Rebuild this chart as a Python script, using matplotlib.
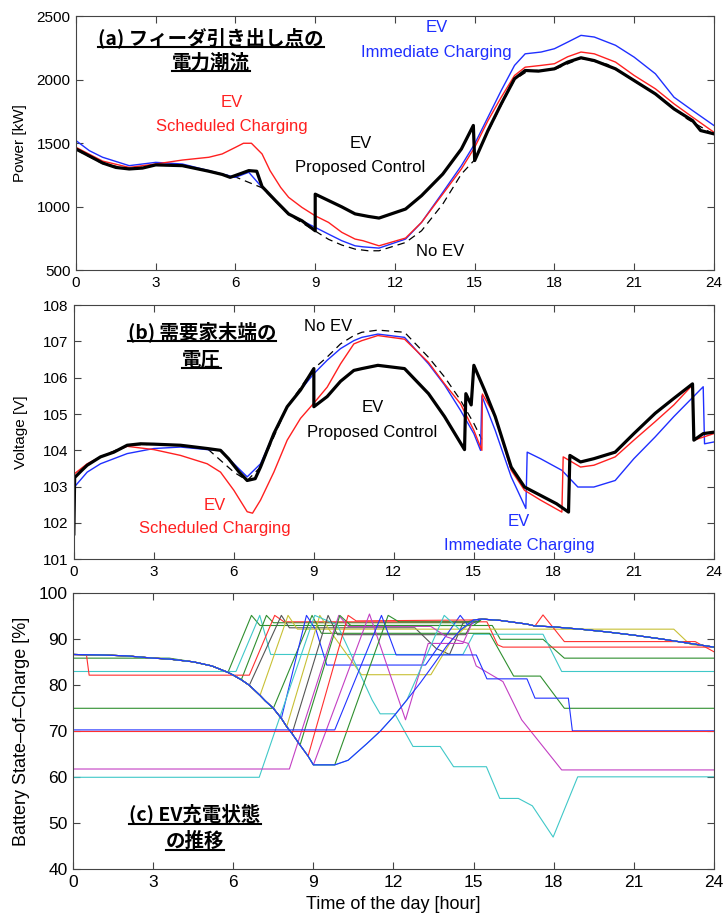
import matplotlib
matplotlib.use('Agg')
import matplotlib.pyplot as plt
from matplotlib.lines import Line2D

plt.rcParams['font.family'] = ['Liberation Sans', 'DejaVu Sans']
JP = ['Noto Sans CJK JP', 'DejaVu Sans']

# ---------------- (a) feeder power flow [kW] ----------------
pa_prop_t = [0, 0.5, 1, 1.5, 2, 2.5, 3, 4, 5, 5.5, 5.8, 6.2, 6.5, 6.8, 7.0, 7.5, 8.0, 8.5, 9.0, 9.0,
             9.5, 10, 10.5, 11, 11.4, 12.4, 13.0, 13.8, 14.5, 14.95, 15.0, 15.5, 16.0, 16.5, 16.9,
             17.4, 18.0, 18.5, 19.0, 19.5, 20.3, 21.0, 21.8, 22.5, 23.2, 23.5, 24]
pa_prop = [1455, 1400, 1345, 1310, 1298, 1305, 1330, 1324, 1280, 1255, 1232, 1262, 1285, 1280, 1160,
           1050, 944, 891, 812, 1100, 1050, 1000, 945, 925, 912, 983, 1088, 1258, 1455, 1640, 1364,
           1600, 1810, 2007, 2072, 2067, 2085, 2138, 2172, 2150, 2085, 1993, 1888, 1770, 1678, 1600, 1574]

pa_sched_t = [0, 1, 2, 3, 4, 5, 5.5, 6.0, 6.3, 6.6, 7.0, 7.3, 7.7, 8.0, 8.5, 9.0, 9.5, 10.0, 10.5,
              10.8, 11.4, 12.4, 13.0, 13.8, 14.5, 15.0, 15.5, 16.0, 16.5, 16.9, 17.5, 18.0, 18.5,
              19.0, 19.5, 20.3, 21.0, 21.8, 22.5, 23.2, 24]
pa_sched = [1468, 1360, 1310, 1337, 1368, 1390, 1416, 1468, 1500, 1500, 1416, 1285, 1153, 1075, 996,
            930, 878, 800, 747, 734, 694, 755, 878, 1101, 1298, 1468, 1678, 1862, 2033, 2098, 2112,
            2125, 2180, 2217, 2203, 2138, 2033, 1928, 1810, 1705, 1587]

pa_imm_t = [0, 0.5, 1, 2, 3, 4, 5, 6, 6.5, 7, 8, 9, 9.5, 10, 10.5, 10.8, 11.4, 12.4, 13.0, 13.8, 14.5,
            15.0, 15.5, 16.0, 16.5, 16.9, 17.5, 18.0, 18.5, 19.0, 19.5, 20.3, 21.0, 21.8, 22.5, 23.2, 24]
pa_imm = [1521, 1442, 1390, 1324, 1350, 1337, 1285, 1232, 1272, 1153, 944, 839, 786, 734, 694, 686,
          676, 747, 878, 1114, 1324, 1495, 1705, 1915, 2112, 2203, 2217, 2243, 2295, 2348, 2335,
          2270, 2177, 2046, 1862, 1757, 1640]

pa_noev_t = [0, 1, 2, 3, 4, 5, 6, 7, 8, 9, 9.5, 10, 10.5, 11, 11.4, 12.4, 13.0, 13.8, 14.5, 15.0,
             15.5, 16.0, 16.5, 17, 18, 19, 20, 21, 22, 23, 24]
pa_noev = [1450, 1340, 1298, 1328, 1322, 1278, 1235, 1150, 940, 810, 745, 700, 668, 655, 655, 720,
           812, 1022, 1258, 1370, 1590, 1800, 2000, 2068, 2080, 2168, 2120, 1990, 1860, 1690, 1570]

# ---------------- (b) customer-end voltage [V] ----------------
vb_prop_t = [0, 0.03, 0.3, 0.5, 1, 1.5, 2, 2.5, 3, 4, 5, 5.5, 5.8, 6.2, 6.5, 6.8, 7.0, 7.5, 8.0, 8.5,
             9.0, 9.0, 9.5, 10, 10.5, 10.8, 11.4, 12.4, 13.3, 13.9, 14.65, 14.7, 14.9, 15.0, 15.4,
             15.8, 16.4, 16.9, 17.5, 18.1, 18.55, 18.6, 19.0, 19.5, 20.3, 21.0, 21.8, 22.5, 23.2,
             23.25, 23.6, 24]
vb_prop = [101.7, 103.25, 103.45, 103.59, 103.82, 103.95, 104.14, 104.18, 104.17, 104.14, 104.05,
           104.0, 103.77, 103.4, 103.17, 103.22, 103.54, 104.46, 105.2, 105.66, 106.25, 105.2,
           105.48, 105.9, 106.2, 106.25, 106.34, 106.25, 105.56, 104.93, 104.02, 105.56, 105.25,
           106.34, 105.66, 104.93, 103.54, 102.99, 102.76, 102.53, 102.3, 103.86, 103.68, 103.77,
           103.95, 104.46, 105.02, 105.43, 105.83, 104.28, 104.46, 104.5]

vb_sched_t = [0, 0.03, 0.5, 1, 2, 3, 4, 5, 5.5, 6, 6.5, 6.7, 7, 7.5, 8, 8.5, 9, 9.5, 10, 10.5, 10.8,
              11.4, 12.4, 13.3, 13.9, 14.5, 15.0, 15.3, 15.32, 15.8, 16.4, 16.9, 17.5, 18.3, 18.35,
              19.0, 19.5, 20.3, 21.0, 21.8, 22.5, 23.2, 23.25, 24]
vb_sched = [101.7, 103.36, 103.63, 103.82, 104.11, 104.02, 103.86, 103.63, 103.4, 102.9, 102.31,
            102.27, 102.63, 103.4, 104.28, 104.88, 105.3, 105.74, 106.38, 106.93, 107.02, 107.16,
            107.06, 106.42, 105.83, 105.28, 104.55, 104.0, 105.55, 104.93, 103.45, 102.9, 102.63,
            102.3, 103.82, 103.54, 103.59, 103.82, 104.28, 104.79, 105.25, 105.8, 104.28, 104.46]

vb_imm_t = [0, 0.03, 0.5, 1, 2, 3, 4, 5, 5.5, 6, 6.5, 7, 7.5, 8, 8.5, 9, 9.5, 10, 10.5, 10.8, 11.4,
            12.4, 13.3, 13.9, 14.5, 15.0, 15.25, 15.3, 15.8, 16.4, 16.95, 17.0, 17.5, 18.3, 18.9,
            19.5, 20.3, 21.0, 21.8, 22.5, 23.6, 23.65, 24]
vb_imm = [101.4, 103.0, 103.4, 103.63, 103.91, 104.05, 104.09, 104.02, 104.0, 103.63, 103.27,
          103.63, 104.46, 105.2, 105.66, 106.11, 106.48, 106.8, 107.02, 107.11, 107.2, 107.11,
          106.38, 105.8, 105.1, 104.46, 104.0, 105.5, 104.55, 103.27, 102.4, 103.95, 103.77,
          103.45, 102.99, 102.99, 103.17, 103.77, 104.37, 104.93, 105.75, 104.18, 104.23]

vb_noev_t = [0, 0.03, 0.5, 1, 2, 3, 4, 5, 6, 6.5, 7, 8, 9, 9.5, 10, 10.5, 10.8, 11.4, 12.4, 13.3,
             13.9, 14.5, 15.0, 15.3]
vb_noev = [101.7, 103.25, 103.59, 103.82, 104.14, 104.17, 104.14, 104.05, 103.4, 103.17, 103.54,
           105.2, 106.25, 106.57, 106.93, 107.16, 107.25, 107.31, 107.25, 106.56, 106.02, 105.38,
           104.74, 104.3]

# ---------------- (c) EV state of charge [%] ----------------
soc_base_t = [0, 1, 2, 3, 3.6, 4.5, 5.2, 5.8, 6.0, 6.3, 6.6, 7.0, 7.2, 7.5, 7.8, 8.0, 8.2, 8.5, 8.8,
              9.0, 9.8, 10.3, 11.0, 11.5, 12.0, 12.5, 13.0, 13.5, 14.0, 14.5, 15.0, 15.3, 16.0,
              17.0, 17.3, 18.0, 19.0, 20.0, 21.0, 22.0, 23.0, 24.0]
soc_base = [86.7, 86.6, 86.4, 85.9, 85.7, 85.1, 84.2, 82.8, 82.2, 81.2, 80.0, 77.8, 76.6, 75.0, 72.8,
            71.0, 69.5, 67.0, 64.6, 62.7, 62.7, 63.7, 67.3, 70.0, 73.2, 76.8, 80.5, 84.5, 88.6, 92.0,
            94.2, 94.4, 94.1, 93.3, 92.9, 92.7, 92.2, 91.6, 90.9, 90.1, 89.2, 88.3]


def upto(t0):
    return [(t, s) for t, s in zip(soc_base_t, soc_base) if t <= t0]


def after(t0):
    return [(t, s) for t, s in zip(soc_base_t, soc_base) if t >= t0]


ev_traces = [
    ('g', [(0, 85.9), (3.6, 85.9)] + [p for p in upto(5.8) if p[0] > 3.6] +
     [(6.68, 95.2), (7.0, 93.0), (15.7, 93.0), (16.0, 90.0), (17.6, 90.0), (18.4, 85.9), (24, 85.9)]),
    ('c', [(0, 83.0), (6.1, 83.0), (6.99, 95.2), (7.4, 86.7), (14.6, 86.7), (15.0, 91.1),
           (17.6, 91.1), (18.3, 83.0), (24, 83.0)]),
    ('g', upto(6.3) + [(7.24, 95.2), (7.5, 93.6), (14.9, 93.6)] + after(15.0)),
    ('r', [(0, 86.7), (0.5, 86.6), (0.6, 82.2), (6.6, 82.2), (7.55, 95.2), (7.9, 93.8), (15.5, 93.8),
           (15.9, 88.8), (16.1, 88.3), (24, 88.3)]),
    ('k', upto(6.6) + [(7.8, 95.2), (8.1, 92.5), (12.8, 92.5), (13.6, 88.0), (14.1, 86.7),
                       (14.6, 93.5)] + after(15.0)),
    ('y', upto(7.0) + [(8.05, 95.2), (8.4, 92.2), (22.5, 92.2), (23.1, 88.9), (24, 88.3)]),
    ('g', [(0, 75.0), (7.5, 75.0), (8.95, 95.2), (9.3, 91.3), (15.6, 91.3), (16.5, 82.0),
           (17.5, 82.0), (18.4, 75.0), (24, 75.0)]),
    ('b', upto(7.8) + [(8.74, 95.2), (9.1, 92.0), (9.5, 84.4), (13.2, 84.4), (14.5, 95.2),
                       (14.8, 93.0)] + after(15.3)),
    ('y', upto(8.0) + [(9.24, 95.2), (9.6, 92.0), (10.8, 82.3), (13.4, 82.3), (14.2, 90.0)] + after(15.0)),
    ('c', [(0, 60.0), (6.97, 60.0), (9.05, 95.2), (9.9, 93.1), (11.2, 76.8), (11.5, 73.8),
           (12.05, 73.8), (12.73, 66.7), (13.75, 66.7), (14.25, 62.3), (15.48, 62.3), (15.98, 55.4),
           (16.68, 55.4), (17.2, 53.8), (17.98, 47.0), (18.9, 60.1), (24, 60.1)]),
    ('k', upto(8.2) + [(9.55, 95.2), (9.9, 91.0), (14.7, 91.0)] + after(15.0)),
    ('m', [(0, 61.8), (8.1, 61.8), (9.95, 95.2), (10.3, 92.8), (13.4, 92.8), (14.0, 90.5),
           (14.8, 89.1), (15.1, 84.2), (15.6, 82.5), (16.1, 80.8), (16.8, 72.5), (18.3, 61.6),
           (24, 61.6)]),
    ('g', upto(8.5) + [(9.99, 95.2), (10.4, 93.0), (15.0, 93.0), (15.3, 94.4)] + after(16.0)),
    ('r', upto(8.8) + [(10.3, 95.2), (10.6, 94.0), (15.0, 94.2)] + [p for p in after(15.3) if p[0] <= 17.3] +
     [(17.6, 95.3), (18.4, 89.5), (23.3, 89.5), (24, 87.3)]),
    ('m', upto(9.0) + [(11.1, 95.5), (12.45, 72.5), (13.3, 89.1), (14.6, 89.1)] + after(15.0)),
    ('b', [(0, 70.3), (9.8, 70.3), (11.55, 95.2), (12.1, 86.6), (15.1, 86.6), (15.5, 81.4),
           (17.0, 81.4), (17.3, 77.2), (18.55, 77.2), (18.7, 70.1), (24, 70.1)]),
    ('g', upto(9.8) + [(11.8, 95.2), (12.2, 93.8), (15.2, 93.8)] + after(15.3)),
    ('c', upto(12.5) + [(13.9, 95.2)] + after(14.5)),
    ('r', [(0, 70.0), (24, 70.0)]),
    ('b', upto(24)),
]

ev_colors = {'b': '#2233ff', 'g': '#2f8f2f', 'r': '#ff3030', 'c': '#40c8c8',
             'm': '#c33fc3', 'y': '#c8c035', 'k': '#555555'}

hour_ticks = list(range(0, 25, 3))

fig = plt.figure(figsize=(7.24, 9.16), dpi=100)
ax_a = fig.add_axes([0.105, 0.7047, 0.881, 0.2778])
ax_b = fig.add_axes([0.102, 0.3894, 0.884, 0.2776])
ax_c = fig.add_axes([0.101, 0.051, 0.885, 0.3013])


def style(ax, fs):
    ax.set_xlim(0, 24)
    ax.set_xticks(hour_ticks)
    ax.tick_params(direction='in', top=True, right=True, length=5, width=0.8,
                   labelsize=fs, color='#444444', pad=4)
    for sp in ax.spines.values():
        sp.set_color('#444444')
        sp.set_linewidth(0.8)


ann = dict(fontsize=12, ha='center', va='center')

# (a)
ax_a.plot(pa_noev_t, pa_noev, color='black', lw=0.9, ls=(0, (6, 4)))
ax_a.plot(pa_imm_t, pa_imm, color='#1f2fff', lw=1.0)
ax_a.plot(pa_sched_t, pa_sched, color='#ff2020', lw=1.0)
ax_a.plot(pa_prop_t, pa_prop, color='black', lw=2.3)
ax_a.set_ylim(500, 2500)
ax_a.set_yticks([500, 1000, 1500, 2000, 2500])
style(ax_a, 11)
ax_a.set_ylabel('Power [kW]', fontsize=11)
ax_a.yaxis.set_label_coords(-0.077, 0.5)
ax_a.text(5.86, 1823, 'EV', color='#ff2020', **ann)
ax_a.text(5.86, 1634, 'Scheduled Charging', color='#ff2020', **ann)
ax_a.text(10.7, 1500, 'EV', color='black', **ann)
ax_a.text(10.7, 1311, 'Proposed Control', color='black', **ann)
ax_a.text(13.57, 2413, 'EV', color='#1f2fff', **ann)
ax_a.text(13.57, 2217, 'Immediate Charging', color='#1f2fff', **ann)
ax_a.text(13.7, 650, 'No EV', color='black', **ann)

# (b)
ax_b.plot(vb_noev_t, vb_noev, color='black', lw=0.9, ls=(0, (6, 4)))
ax_b.plot(vb_imm_t, vb_imm, color='#1f2fff', lw=1.0)
ax_b.plot(vb_sched_t, vb_sched, color='#ff2020', lw=1.0)
ax_b.plot(vb_prop_t, vb_prop, color='black', lw=2.3)
ax_b.set_ylim(101, 108)
ax_b.set_yticks(range(101, 109))
style(ax_b, 11)
ax_b.set_ylabel('Voltage [V]', fontsize=11)
ax_b.yaxis.set_label_coords(-0.072, 0.5)
ax_b.text(9.55, 107.4, 'No EV', color='black', **ann)
ax_b.text(11.2, 105.19, 'EV', color='black', **ann)
ax_b.text(11.2, 104.5, 'Proposed Control', color='black', **ann)
ax_b.text(5.3, 102.49, 'EV', color='#ff2020', **ann)
ax_b.text(5.3, 101.86, 'Scheduled Charging', color='#ff2020', **ann)
ax_b.text(16.7, 102.05, 'EV', color='#1f2fff', **ann)
ax_b.text(16.7, 101.39, 'Immediate Charging', color='#1f2fff', **ann)

# (c)
for col, pts in ev_traces:
    ax_c.plot([p[0] for p in pts], [p[1] for p in pts], color=ev_colors[col], lw=0.8)
ax_c.set_ylim(40, 100)
ax_c.set_yticks(range(40, 101, 10))
style(ax_c, 12.5)
ax_c.set_ylabel('Battery State\u2013of\u2013Charge [%]', fontsize=13)
ax_c.yaxis.set_label_coords(-0.067, 0.5)
ax_c.set_xlabel('Time of the day [hour]', fontsize=13)
ax_c.xaxis.set_label_coords(0.5, -0.095)

# bold underlined Japanese captions
titles = [
    (ax_a, 5.07, 2327, '(a) フィーダ引き出し点の'),
    (ax_a, 5.07, 2130, '電力潮流'),
    (ax_b, 4.8, 107.26, '(b) 需要家末端の'),
    (ax_b, 4.8, 106.48, '電圧'),
    (ax_c, 4.56, 51.8, '(c) EV充電状態'),
    (ax_c, 4.56, 46.0, 'の推移'),
]
title_objs = []
for ax, x, y, s in titles:
    title_objs.append(ax.text(x, y, s, family=JP, fontweight='bold', fontsize=14,
                              ha='center', va='center', color='black'))

fig.canvas.draw()
renderer = fig.canvas.get_renderer()
W, H = fig.bbox.width, fig.bbox.height
for t in title_objs:
    bb = t.get_window_extent(renderer)
    yb = bb.y0 + 1.5
    fig.add_artist(Line2D([bb.x0 / W, bb.x1 / W], [yb / H, yb / H], color='black', lw=1.5,
                          transform=fig.transFigure))

fig.savefig('out.png', dpi=100)
